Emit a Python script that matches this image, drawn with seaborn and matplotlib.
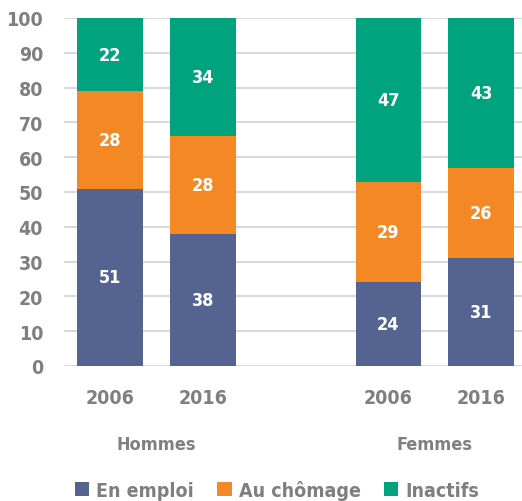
import matplotlib
matplotlib.use("Agg")
import matplotlib.pyplot as plt
import seaborn as sns
import pandas as pd
import numpy as np
from matplotlib.patches import Patch

# Data
groups = ["Hommes", "Hommes", "Femmes", "Femmes"]
years = ["2006", "2016", "2006", "2016"]
positions = [0, 1, 3, 4]
en_emploi = [51, 38, 24, 31]
au_chomage = [28, 28, 29, 26]
inactifs = [22, 34, 47, 43]
series_names = ["En emploi", "Au chômage", "Inactifs"]
colors = ["#556391", "#F38824", "#00A37E"]
group_names = ["Hommes", "Femmes"]

sns.set_theme(style="white")
plt.rcParams['font.family'] = ['DejaVu Sans']
plt.rcParams['font.stretch'] = 'condensed'
plt.rcParams['font.weight'] = 'bold'

TXT = "#7F7F7F"

fig = plt.figure(figsize=(5.22, 5.02), dpi=100)
ax = fig.add_axes([64/522, 135/502, (522-64)/522, 348/502])

emp = np.array(en_emploi, dtype=float)
cho = np.array(au_chomage, dtype=float)
ina = np.array(inactifs, dtype=float)
cum = [emp, emp + cho, emp + cho + ina]

df = pd.DataFrame({"pos": positions, "s0": cum[0], "s1": cum[1], "s2": cum[2]})

for i in [2, 1, 0]:
    sns.barplot(data=df, x="pos", y=f"s{i}", native_scale=True, color=colors[i],
                saturation=1, width=0.71, ax=ax, errorbar=None, zorder=2,
                linewidth=0, edgecolor="none")

ax.set_ylim(0, 100)
ax.set_xlim(-0.5, 4.44)
ax.set_yticks(range(0, 101, 10))
ax.yaxis.grid(True, color="#D9D9D9", linewidth=1.5, zorder=0)
ax.set_axisbelow(True)
for s in ax.spines.values():
    s.set_visible(False)
ax.set_xlabel("")
ax.set_ylabel("")
ax.set_xticks(positions)
ax.set_xticklabels(years)
ax.tick_params(axis="y", labelsize=14, labelcolor=TXT, length=0, pad=15)
ax.tick_params(axis="x", labelsize=14, labelcolor=TXT, length=0, pad=16)

# data labels
bottoms = [np.zeros(4), cum[0], cum[1]]
vals = [emp, cho, ina]
for i in range(3):
    for j, p in enumerate(positions):
        lo = bottoms[i][j]
        hi = min(cum[i][j], 100)
        ax.text(p, (lo + hi) / 2, f"{int(vals[i][j])}", ha="center", va="center",
                color="white", fontsize=13, fontweight="bold")

# group labels
for g, xc in zip(group_names, [0.5, 3.5]):
    xf = ax.transData.transform((xc, 0))[0] / fig.dpi / 5.22
    fig.text(xf, 1 - 445/502, g, ha="center", va="center", color=TXT,
             fontsize=13, fontweight="bold")

handles = [Patch(facecolor=c, edgecolor="none", label=n) for c, n in zip(colors, series_names)]
fig.legend(handles=handles, loc="center", bbox_to_anchor=(277/522, 1 - 491/502), ncol=3,
           frameon=False, fontsize=14, handlelength=0.75, handleheight=0.75,
           handletextpad=0.35, columnspacing=1.2, labelcolor=TXT)

fig.savefig("out.png", dpi=100)
